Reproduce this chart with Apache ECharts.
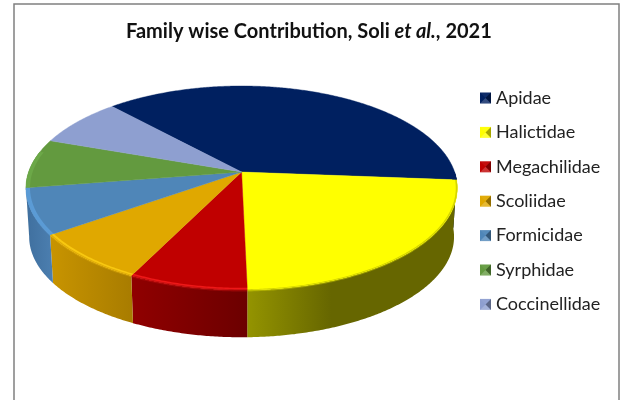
<!DOCTYPE html>
<html>
<head>
<meta charset="utf-8">
<style>html,body{margin:0;padding:0;background:#fff}#chart{width:621px;height:400px}</style>
<script src="https://cdn.jsdelivr.net/npm/echarts@6/dist/echarts.min.js"></script>
</head>
<body>
<div id="chart"></div>
<script>
// Share of each insect family, in percent
const families = ['Apidae', 'Halictidae', 'Megachilidae', 'Scoliidae', 'Formicidae', 'Syrphidae', 'Coccinellidae'];
const shares = [38.1, 23.4, 7.7, 7.9, 7.3, 7.8, 7.8];

const topColors = ['#002060', '#FFFF00', '#C00000', '#E0A800', '#4F86B8', '#639A3F', '#8E9FD0'];
const rimColors = ['#002060', '#FFFF00', '#EE1818', '#F8C810', '#5B9BD5', '#6CA848', '#8E9FD0'];
const rimEdges = ['#002060', '#D4D400', '#C41010', '#E0AC08', '#5B9BD5', '#6CA848', '#8E9FD0'];
const wallStops = [
  ['#001540', '#001540'],
  ['#949400', '#666600'],
  ['#900000', '#6C0000'],
  ['#C89400', '#A87C00'],
  ['#3F6F9E', '#4C7FB0'],
  ['#3F6F2A', '#3F6F2A'],
  ['#6070A0', '#6070A0']
];

// Projected disc: a tilted circle seen in perspective
const disc = { cx: 241.6, topY: 172, bottomY: 221, halfW: 213, halfH: 99.5, persp: 0.157, bottomScale: 0.985 };
const firstAngle = 227.3;   // degrees clockwise from the right-hand side
const total = shares.reduce((a, b) => a + b, 0);

function project(deg, scale, y0) {
  const t = deg * Math.PI / 180;
  const w = 1 - disc.persp * Math.sin(t);
  return [disc.cx + scale * disc.halfW * Math.cos(t) / w, y0 + scale * disc.halfH * Math.sin(t) / w];
}
function arc(a0, a1, scale, y0) {
  const n = Math.max(2, Math.ceil(Math.abs(a1 - a0) * 2));
  const pts = [];
  for (let i = 0; i <= n; i++) pts.push(project(a0 + (a1 - a0) * i / n, scale, y0));
  return pts;
}
function sliceStart(index) {
  let sum = 0;
  for (let i = 0; i < index; i++) sum += shares[i];
  return firstAngle + sum / total * 360;
}

// Part of an arc between 0 and limit degrees, after wrapping to 0..360
function visibleRange(a0, a1, limit) {
  const s = ((a0 % 360) + 360) % 360;
  const e = s + (a1 - a0);
  const ranges = [];
  [[s, e], [s - 360, e - 360]].forEach(([p, q]) => {
    const lo = Math.max(p, 0), hi = Math.min(q, limit);
    if (hi > lo) ranges.push([lo, hi]);
  });
  return ranges;
}

function renderSlice(index) {
  return function (params, api) {
    const a0 = sliceStart(index);
    const a1 = a0 + api.value(0) / total * 360;
    const top = topColors[index];
    const rim = rimColors[index];
    const edge = rimEdges[index];
    const stops = wallStops[index];
    const children = [];

    // Outer wall, only where it faces the viewer
    const gradient = index === 1
      ? [{ offset: 0, color: stops[0] }, { offset: 0.4, color: stops[1] }, { offset: 1, color: stops[1] }]
      : [{ offset: 0, color: stops[0] }, { offset: 1, color: stops[1] }];
    visibleRange(a0, a1, 171.2).forEach(([lo, hi]) => {
      children.push({
        type: 'polygon', z2: 1,
        shape: { points: arc(lo, hi, 1, disc.topY).concat(arc(hi, lo, disc.bottomScale, disc.bottomY)) },
        style: { fill: { type: 'linear', x: 0, y: 0, x2: 1, y2: 0, colorStops: gradient } }
      });
      children.push({
        type: 'polygon', z2: 2,
        shape: { points: arc(lo, hi, 1, disc.topY).concat(arc(hi, lo, 0.999, disc.topY + 1.6)) },
        style: { fill: edge, opacity: 0.45 }
      });
    });

    // Top face
    children.push({
      type: 'polygon', z2: 3,
      shape: { points: [[disc.cx, disc.topY]].concat(arc(a0, a1, 1, disc.topY)) },
      style: { fill: top, stroke: top, lineWidth: 0.4 }
    });

    // Bevel around the front of the top face
    visibleRange(a0, a1, 192).forEach(([lo, hi]) => {
      children.push({
        type: 'polygon', z2: 4,
        shape: { points: arc(lo, hi, 1, disc.topY).concat(arc(hi, lo, 0.981, disc.topY)) },
        style: { fill: rim }
      });
      children.push({
        type: 'polygon', z2: 5,
        shape: { points: arc(lo, hi, 1, disc.topY).concat(arc(hi, lo, 0.993, disc.topY)) },
        style: { fill: edge }
      });
    });
    return { type: 'group', children: children };
  };
}

const legendX = 480, legendY = 92.5, legendStep = 34.4, swatch = 11;
const fontFace = 'Lato, Carlito, "Open Sans", sans-serif';

// Pyramid shading laid over each legend swatch
const swatchFacets = [];
families.forEach((name, i) => {
  const x = legendX, y = legendY + i * legendStep, s = swatch, m = s / 2;
  const c = [x + m, y + m];
  [
    [[[x, y], [x + s, y], c], 'rgba(255,255,255,0.05)'],
    [[[x + s, y], [x + s, y + s], c], 'rgba(0,0,0,0.35)'],
    [[[x, y + s], [x + s, y + s], c], 'rgba(255,255,255,0.2)']
  ].forEach(([points, fill]) => {
    swatchFacets.push({ type: 'polygon', silent: true, z: 100, shape: { points }, style: { fill } });
  });
});

const chart = echarts.init(document.getElementById('chart'), null, { renderer: 'canvas' });
chart.setOption({
  animation: false,
  backgroundColor: '#ffffff',
  title: {
    left: 121, top: 17,
    text: '{b|Family wise Contribution, Soli }{i|et al.}{b|, 2021}',
    textStyle: {
      rich: {
        b: { fontFamily: fontFace, fontWeight: 'bold', fontSize: 20, color: '#111' },
        i: { fontFamily: fontFace, fontWeight: 'bold', fontStyle: 'italic', fontSize: 20, color: '#111' }
      }
    }
  },
  legend: {
    orient: 'vertical',
    left: legendX, top: 89,
    padding: 0,
    icon: 'rect',
    itemWidth: swatch, itemHeight: swatch,
    itemGap: 16.4,
    selectedMode: false,
    textStyle: { fontFamily: fontFace, fontSize: 18, color: '#222', padding: [0, 0, 0, 0] },
    data: families.map((name, i) => ({ name, itemStyle: { color: topColors[i] } }))
  },
  graphic: [
    { type: 'rect', silent: true, z: -1, shape: { x: 14, y: 4, width: 605, height: 430 }, style: { fill: 'none', stroke: '#808080', lineWidth: 1.5 } }
  ].concat(swatchFacets),
  series: families.map((name, i) => ({
    type: 'custom',
    name,
    coordinateSystem: 'none',
    silent: true,
    itemStyle: { color: topColors[i] },
    data: [[shares[i]]],
    renderItem: renderSlice(i)
  }))
});
</script>
</body>
</html>
